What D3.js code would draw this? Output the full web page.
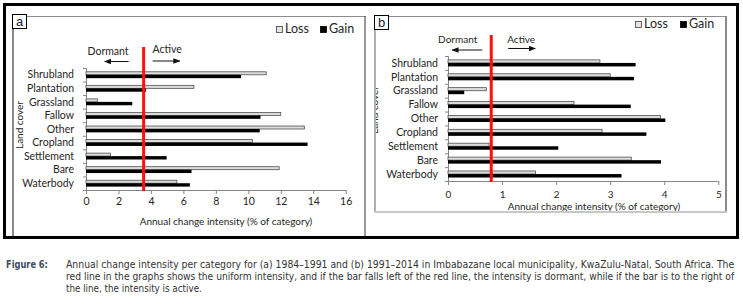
<!DOCTYPE html>
<html>
<head>
  <meta charset="utf-8">
  <title>Annual change intensity per category</title>
  <script src="https://cdn.jsdelivr.net/npm/d3@7/dist/d3.min.js"></script>
  <style>
    body { margin: 0; background: #fff; }
    svg { display: block; }
    .lbl { font-family: Lato, "Open Sans", sans-serif; fill: #262626; }
    .cap { font-family: "Liberation Sans Narrow", "DejaVu Sans Condensed", "Liberation Sans", sans-serif; }
  </style>
</head>
<body>
  <svg width="743" height="304"></svg>

  <script>
    // land cover categories, top to bottom
    const categories = ["Shrubland", "Plantation", "Grassland", "Fallow", "Other",
                        "Cropland", "Settlement", "Bare", "Waterbody"];

    // (a) 1984-1991
    const lossA = [11.1, 6.65, 0.7, 12.0, 13.45, 10.25, 1.5, 11.9, 5.6];
    const gainA = [9.55, 3.7, 2.85, 10.75, 10.7, 13.65, 4.97, 6.5, 6.4];
    const uniformA = 3.55;
    const ticksA = [0, 2, 4, 6, 8, 10, 12, 14, 16];

    // (b) 1991-2014
    const lossB = [2.81, 3.0, 0.71, 2.33, 3.93, 2.85, 0.76, 3.39, 1.62];
    const gainB = [3.47, 3.44, 0.30, 3.38, 4.02, 3.67, 2.04, 3.94, 3.21];
    const uniformB = 0.8;
    const ticksB = [0, 1, 2, 3, 4, 5];

    const series = ["Loss", "Gain"];
    const xTitle = "Annual change intensity (% of category)";
    const yTitle = "Land cover";

    const captionHead = "Figure 6:";
    const captionLines = [
      "Annual change intensity per category for (a) 1984\u20131991 and (b) 1991\u20132014 in Imbabazane local municipality, KwaZulu-Natal, South Africa. The",
      "red line in the graphs shows the uniform intensity, and if the bar falls left of the red line, the intensity is dormant, while if the bar is to the right of",
      "the line, the intensity is active."
    ];

    const svg = d3.select("svg");
    const defs = svg.append("defs");

    defs.append("marker")
        .attr("id", "arrow")
        .attr("viewBox", "0 0 10 10")
        .attr("refX", 9).attr("refY", 5)
        .attr("markerWidth", 7).attr("markerHeight", 7)
        .attr("markerUnits", "userSpaceOnUse")
        .attr("orient", "auto")
      .append("path")
        .attr("d", "M0,1 L10,5 L0,9 Z")
        .attr("fill", "#111");

    // outer frame
    svg.append("rect")
        .attr("x", 4.5).attr("y", 4.5)
        .attr("width", 733).attr("height", 233)
        .attr("fill", "none").attr("stroke", "#000").attr("stroke-width", 3);

    function drawPanel(o) {
        const g = svg.append("g");
        const clipId = "clip-" + o.label;
        defs.append("clipPath").attr("id", clipId)
          .append("rect")
            .attr("x", o.box[0]).attr("y", o.box[1])
            .attr("width", o.box[2] - o.box[0]).attr("height", o.box[3] - o.box[1]);

        const inner = g.append("g").attr("clip-path", `url(#${clipId})`);

        const x = d3.scaleLinear().domain([0, o.xMax]).range(o.xRange);
        const yLin = d3.scaleLinear().domain([0, categories.length]).range(o.yRange);
        const y = d3.scaleBand().domain(categories).range(o.yRange)
            .paddingInner(0.5).paddingOuter(0.25);
        const ySub = d3.scaleBand().domain(series).range([0, y.bandwidth()]);

        // y axis: ticks on band edges
        const yAxis = inner.append("g")
            .attr("transform", `translate(${o.xRange[0]},0)`)
            .call(d3.axisLeft(yLin).tickValues(d3.range(categories.length + 1))
                .tickSize(3).tickFormat(""));
        yAxis.select(".domain").attr("stroke", "#868686");
        yAxis.selectAll(".tick line").attr("stroke", "#868686");

        inner.selectAll("text.cat")
            .data(categories)
            .enter().append("text")
            .attr("class", "lbl cat")
            .attr("x", o.xRange[0] - o.labelGap)
            .attr("y", d => y(d) + y.bandwidth() / 2)
            .attr("dy", "0.35em")
            .attr("text-anchor", "end")
            .attr("font-size", o.catSize)
            .text(d => d);

        // x axis
        const xAxis = inner.append("g")
            .attr("transform", `translate(0,${o.yRange[1]})`)
            .call(d3.axisBottom(x).tickValues(o.ticks).tickSize(4).tickSizeOuter(0).tickFormat(d3.format("d")));
        xAxis.select(".domain").attr("stroke", "#868686");
        xAxis.selectAll(".tick line").attr("stroke", "#868686");
        xAxis.selectAll(".tick text")
            .attr("class", "lbl")
            .attr("font-size", o.tickSize)
            .attr("y", o.tickLabelY)
            .attr("dy", 0);

        // bars
        const rows = categories.map((c, i) => ({ cat: c, Loss: o.loss[i], Gain: o.gain[i] }));
        const bar = inner.selectAll("g.row")
            .data(rows)
            .enter().append("g")
            .attr("class", "row")
            .attr("transform", d => `translate(0,${y(d.cat)})`);

        bar.append("rect")
            .attr("x", x(0))
            .attr("y", ySub("Loss") + 0.4)
            .attr("width", d => x(d.Loss) - x(0))
            .attr("height", ySub.bandwidth() - 0.4)
            .attr("fill", "#dcdcdc")
            .attr("stroke", "#505050")
            .attr("stroke-width", 0.8);

        bar.append("rect")
            .attr("x", x(0))
            .attr("y", ySub("Gain"))
            .attr("width", d => x(d.Gain) - x(0))
            .attr("height", ySub.bandwidth())
            .attr("fill", "#000");

        // uniform intensity line
        inner.append("line")
            .attr("x1", x(o.uniform)).attr("x2", x(o.uniform))
            .attr("y1", o.redTop).attr("y2", o.yRange[1] + 1)
            .attr("stroke", "#ff1010").attr("stroke-width", 3);

        // dormant / active
        const ux = x(o.uniform);
        inner.append("text").attr("class", "lbl")
            .attr("x", ux + o.dormant[0]).attr("y", o.dormant[1])
            .attr("text-anchor", "end").attr("font-size", o.noteSize)
            .text("Dormant");
        inner.append("line")
            .attr("x1", ux + o.leftArrow[0]).attr("x2", ux + o.leftArrow[1])
            .attr("y1", o.leftArrow[2]).attr("y2", o.leftArrow[2])
            .attr("stroke", "#111").attr("stroke-width", 1)
            .attr("marker-end", "url(#arrow)");
        inner.append("text").attr("class", "lbl")
            .attr("x", ux + o.active[0]).attr("y", o.active[1])
            .attr("font-size", o.noteSize)
            .text("Active");
        inner.append("line")
            .attr("x1", ux + o.rightArrow[0]).attr("x2", ux + o.rightArrow[1])
            .attr("y1", o.rightArrow[2]).attr("y2", o.rightArrow[2])
            .attr("stroke", "#111").attr("stroke-width", 1)
            .attr("marker-end", "url(#arrow)");

        // axis titles
        inner.append("text").attr("class", "lbl")
            .attr("x", o.xTitlePos[0]).attr("y", o.xTitlePos[1])
            .attr("text-anchor", "middle").attr("font-size", o.titleSize)
            .text(xTitle);
        inner.append("text").attr("class", "lbl")
            .attr("transform", `translate(${o.yTitlePos[0]},${o.yTitlePos[1]}) rotate(-90)`)
            .attr("text-anchor", "middle").attr("font-size", o.titleSize)
            .text(yTitle);

        // legend
        const lg = inner.append("g").attr("transform", `translate(${o.legend[0]},${o.legend[1]})`);
        series.forEach((s, i) => {
            lg.append("rect")
                .attr("x", i * o.legendStep + 0.5).attr("y", -6.5)
                .attr("width", 6).attr("height", 6)
                .attr("fill", s === "Loss" ? "#e4e4e4" : "#000")
                .attr("stroke", s === "Loss" ? "#404040" : "#000")
                .attr("stroke-width", 0.8);
            lg.append("text").attr("class", "lbl")
                .attr("x", i * o.legendStep + 9).attr("y", 0)
                .attr("font-size", o.legendSize)
                .text(s);
        });

        // panel borders
        const [x0, y0, x1, y1] = o.box;
        g.append("line").attr("x1", x0).attr("x2", x1).attr("y1", y0 + 0.5).attr("y2", y0 + 0.5)
            .attr("stroke", "#8c8c8c").attr("stroke-width", 1);
        g.append("line").attr("x1", x0 + 1).attr("x2", x0 + 1).attr("y1", y0).attr("y2", y1)
            .attr("stroke", o.leftColor).attr("stroke-width", 2);
        g.append("line").attr("x1", x1 - 1).attr("x2", x1 - 1).attr("y1", y0).attr("y2", y1)
            .attr("stroke", o.rightColor).attr("stroke-width", o.rightWidth);
        if (o.bottomColor) {
            g.append("line").attr("x1", x0).attr("x2", x1).attr("y1", y1 - 1).attr("y2", y1 - 1)
                .attr("stroke", o.bottomColor).attr("stroke-width", 2);
        }

        // panel letter
        g.append("rect")
            .attr("x", x0 + 0.5).attr("y", o.tagY + 0.5)
            .attr("width", 14).attr("height", 14)
            .attr("fill", "#fff").attr("stroke", "#000").attr("stroke-width", 1);
        g.append("text")
            .attr("x", x0 + 7.5).attr("y", o.tagY + 11.5)
            .attr("text-anchor", "middle")
            .attr("font-family", "'Liberation Sans', Arial, sans-serif")
            .attr("font-size", 13).attr("fill", "#1a1a3a")
            .text(o.label);
    }

    drawPanel({
        label: "a", box: [12, 16, 366, 236], tagY: 14,
        xMax: 16, ticks: ticksA, xRange: [86, 345.7], yRange: [68, 190],
        loss: lossA, gain: gainA, uniform: uniformA, redTop: 47,
        labelGap: 12, catSize: 10.5, tickSize: 10.5, tickLabelY: 15, titleSize: 10, noteSize: 10.5,
        dormant: [-15, 55], leftArrow: [-15, -39, 61.5],
        active: [9, 53], rightArrow: [9, 36, 61],
        xTitlePos: [226, 225], yTitlePos: [23, 125],
        legend: [276, 33], legendStep: 44, legendSize: 12.5,
        leftColor: "#8a8a8a", rightColor: "#555", rightWidth: 1.2, bottomColor: null
    });

    drawPanel({
        label: "b", box: [374, 16, 727, 213], tagY: 15,
        xMax: 5, ticks: ticksB, xRange: [448, 718.3], yRange: [56, 181],
        loss: lossB, gain: gainB, uniform: uniformB, redTop: 35,
        labelGap: 10, catSize: 10.5, tickSize: 10, tickLabelY: 17, titleSize: 10, noteSize: 10,
        dormant: [-14, 43], leftArrow: [-9, -39, 50],
        active: [16, 42.5], rightArrow: [17, 44, 48.5],
        xTitlePos: [594, 209.5], yTitlePos: [378, 110],
        legend: [635, 28], legendStep: 45, legendSize: 12.5,
        leftColor: "#b0b0b0", rightColor: "#8a8a8a", rightWidth: 2, bottomColor: "#c8c8c8"
    });

    // caption: condensed by measured horizontal scale so the glyph boxes stay true
    const cap = svg.append("g").attr("class", "cap");
    function fitText(str, x, y, width, opts) {
        const gg = cap.append("g");
        const t = gg.append("text")
            .attr("x", 0).attr("y", 0)
            .attr("font-size", opts.size)
            .attr("font-weight", opts.weight || "normal")
            .attr("fill", opts.fill)
            .text(str);
        const natural = t.node().getComputedTextLength();
        gg.attr("transform", `translate(${x},${y}) scale(${width / natural},1)`);
    }
    fitText(captionHead, 6, 268, 42, { size: 10.5, weight: "bold", fill: "#3e4d63" });
    captionLines.forEach((t, i) => {
        const w = i < captionLines.length - 1 ? 669 : 136;
        fitText(t, 66, 268 + i * 12, w, { size: 10.5, fill: "#333" });
    });
  </script>
</body>
</html>
